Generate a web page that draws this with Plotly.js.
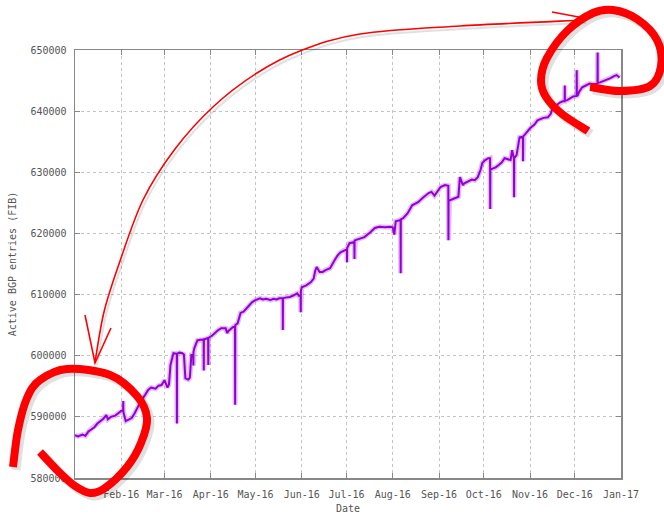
<!DOCTYPE html>
<html>
<head>
<meta charset="utf-8">
<script src="https://cdn.plot.ly/plotly-3.0.1.min.js"></script>
<style>
  html, body { margin: 0; padding: 0; background: #fff; }
  #chart { width: 664px; height: 514px; }
</style>
</head>
<body>
<div id="chart"></div>
<script>
// ---- data ----
const dates = [
  "2016-01-01","2016-01-03","2016-01-06","2016-01-08","2016-01-10","2016-01-12","2016-01-14","2016-01-16",
  "2016-01-18","2016-01-20","2016-01-22","2016-01-23","2016-01-25","2016-01-28","2016-01-30","2016-02-01",
  "2016-02-02 06:00","2016-02-02 08:00","2016-02-02 10:00",
  "2016-02-04","2016-02-06","2016-02-08","2016-02-10","2016-02-12","2016-02-14","2016-02-17","2016-02-19",
  "2016-02-21","2016-02-24","2016-02-26","2016-02-28","2016-03-01","2016-03-03","2016-03-04","2016-03-05",
  "2016-03-07",
  "2016-03-09 06:00","2016-03-09 08:00","2016-03-09 10:00",
  "2016-03-11","2016-03-13","2016-03-14","2016-03-15","2016-03-17","2016-03-18","2016-03-19",
  "2016-03-20 06:00","2016-03-20 08:00","2016-03-20 10:00",
  "2016-03-21","2016-03-23","2016-03-25",
  "2016-03-27 06:00","2016-03-27 08:00","2016-03-27 10:00",
  "2016-03-28",
  "2016-03-30 06:00","2016-03-30 08:00","2016-03-30 10:00",
  "2016-04-02","2016-04-04","2016-04-06","2016-04-08","2016-04-11","2016-04-12","2016-04-13","2016-04-16",
  "2016-04-17 06:00","2016-04-17 08:00","2016-04-17 10:00",
  "2016-04-19","2016-04-21","2016-04-23","2016-04-25","2016-04-27","2016-04-29","2016-05-01","2016-05-04",
  "2016-05-06","2016-05-08","2016-05-11","2016-05-13","2016-05-15","2016-05-17",
  "2016-05-19 06:00","2016-05-19 08:00","2016-05-19 10:00",
  "2016-05-21","2016-05-24","2016-05-26","2016-05-29","2016-05-30",
  "2016-05-31 06:00","2016-05-31 08:00","2016-05-31 10:00",
  "2016-06-01","2016-06-04","2016-06-07","2016-06-09","2016-06-10","2016-06-11","2016-06-13","2016-06-15",
  "2016-06-17","2016-06-20","2016-06-23","2016-06-25","2016-06-27","2016-06-29",
  "2016-07-01 06:00","2016-07-01 08:00","2016-07-01 10:00",
  "2016-07-03","2016-07-05",
  "2016-07-06 06:00","2016-07-06 08:00","2016-07-06 10:00",
  "2016-07-07","2016-07-10","2016-07-13","2016-07-17","2016-07-20","2016-07-23","2016-07-27","2016-07-30",
  "2016-08-01","2016-08-02","2016-08-03",
  "2016-08-06 06:00","2016-08-06 08:00","2016-08-06 10:00",
  "2016-08-08","2016-08-11","2016-08-14","2016-08-16","2016-08-18","2016-08-21","2016-08-25","2016-08-27",
  "2016-08-29","2016-09-02","2016-09-05",
  "2016-09-07 06:00","2016-09-07 08:00","2016-09-07 10:00",
  "2016-09-08","2016-09-12","2016-09-14","2016-09-15","2016-09-17","2016-09-18","2016-09-20","2016-09-23",
  "2016-09-25","2016-09-27","2016-09-29","2016-09-30","2016-10-02","2016-10-04",
  "2016-10-05 06:00","2016-10-05 08:00","2016-10-05 10:00",
  "2016-10-06","2016-10-09","2016-10-11","2016-10-13","2016-10-15","2016-10-17","2016-10-19","2016-10-20",
  "2016-10-21 06:00","2016-10-21 08:00","2016-10-21 10:00",
  "2016-10-23","2016-10-24","2016-10-25",
  "2016-10-27 06:00","2016-10-27 08:00","2016-10-27 10:00",
  "2016-10-28","2016-10-30","2016-11-01","2016-11-04","2016-11-06","2016-11-10","2016-11-13","2016-11-15",
  "2016-11-16","2016-11-19","2016-11-21","2016-11-23",
  "2016-11-24 06:00","2016-11-24 08:00","2016-11-24 10:00",
  "2016-11-26","2016-11-28","2016-11-30",
  "2016-12-02 06:00","2016-12-02 08:00","2016-12-02 10:00",
  "2016-12-03","2016-12-04","2016-12-06","2016-12-09","2016-12-11","2016-12-13",
  "2016-12-16 06:00","2016-12-16 08:00","2016-12-16 10:00",
  "2016-12-18","2016-12-20","2016-12-22","2016-12-25","2016-12-27","2016-12-29","2016-12-31"
];
const entries = [
  587000,586800,587100,586900,587600,588000,588300,588900,
  589300,589700,590300,589600,590000,590200,590600,591000,
  591000,592600,590800,
  589300,589500,589800,590600,591600,592500,593600,594400,
  594800,594600,595100,595200,596000,594800,595300,598500,
  600400,
  600300,588900,600300,
  600500,600400,600200,596300,596100,596400,600100,
  600100,598400,600600,
  601200,602500,602600,
  602600,597600,602700,
  602700,
  602900,598500,602900,
  603300,603800,604200,604500,604500,603700,604100,604700,
  604700,592000,605000,
  605300,607000,607200,607800,608300,608800,609100,609400,
  609200,609300,609100,609300,609200,609400,
  609400,604200,609400,
  609500,609600,609800,610200,609800,
  609800,607100,610600,
  611200,611500,612000,612600,613900,614500,613700,613700,
  614000,614300,615600,616400,616900,617200,
  617400,615300,617600,
  618400,618600,
  618600,615800,618800,
  618900,619200,619400,620200,620900,621100,621000,621100,
  621000,619800,622000,
  622200,613500,622300,
  622500,623300,624600,624800,625100,625800,626600,626800,
  626200,627600,627900,
  627800,618900,625400,
  625400,625800,626000,629200,627900,628200,628400,628800,
  628700,629200,630500,631500,632000,632300,
  632300,624000,630600,
  630500,630800,631200,631600,632300,632200,632000,633600,
  632200,625900,632300,
  632800,634500,635700,
  635800,631800,635900,
  636000,636600,637200,637800,638500,638900,639000,639600,
  640500,641000,641400,641600,
  641600,644200,641700,
  641800,642100,642400,
  642500,646700,642500,
  642600,643200,643900,644300,644500,644400,
  644500,649600,644600,
  644700,644900,645000,645400,645700,645900,645500
];
const tickDates = ["2016-02-01","2016-03-01","2016-04-01","2016-05-01","2016-06-01","2016-07-01",
  "2016-08-01","2016-09-01","2016-10-01","2016-11-01","2016-12-01","2017-01-01"];
const tickLabels = ["Feb-16","Mar-16","Apr-16","May-16","Jun-16","Jul-16",
  "Aug-16","Sep-16","Oct-16","Nov-16","Dec-16","Jan-17"];
const yTicks = [580000,590000,600000,610000,620000,630000,640000,650000];

// ---- hand-drawn red marks (decoration, in page pixels) ----
const PLOT = {l: 75, r: 621, t: 50, b: 478};
const arcStroke = [[95,362],[104,312],[119,264],[143,200],[175,149],[214,106],[257,73],[300,51],[360,34],[460,26],[584,20]];
const arrowLow = [[85,315],[95,363],[111,328]];
const arrowHigh1 = [[552,12],[584,18]];
const arrowHigh2 = [[560,34],[582,22]];
const loopLow = [[13,467],[18,430],[27,398],[40,380],[67,369],[110,375],[137,396],[147,418],[141,443],[127,467],[105,488],[90,493],[75,486],[60,473],[40,452]];
const loopHigh = [[588,131],[562,114],[546,97],[541,80],[547,58],[567,31],[593,13],[613,10],[637,19],[657,40],[661,66],[650,86],[620,91],[590,87]];

function toPaper(p, dx, dy) {
  const x = (p[0] + (dx||0) - PLOT.l) / (PLOT.r - PLOT.l);
  const y = (PLOT.b - (p[1] + (dy||0))) / (PLOT.b - PLOT.t);
  return x.toFixed(5) + "," + y.toFixed(5);
}
function smoothPath(pts, dx, dy) {
  let d = "M" + toPaper(pts[0], dx, dy);
  for (let i = 0; i < pts.length - 1; i++) {
    const p0 = pts[Math.max(0, i - 1)], p1 = pts[i], p2 = pts[i + 1], p3 = pts[Math.min(pts.length - 1, i + 2)];
    const c1 = [p1[0] + (p2[0] - p0[0]) / 6, p1[1] + (p2[1] - p0[1]) / 6];
    const c2 = [p2[0] - (p3[0] - p1[0]) / 6, p2[1] - (p3[1] - p1[1]) / 6];
    d += " C" + toPaper(c1, dx, dy) + " " + toPaper(c2, dx, dy) + " " + toPaper(p2, dx, dy);
  }
  return d;
}
function polyPath(pts, dx, dy) {
  return "M" + pts.map(p => toPaper(p, dx, dy)).join(" L");
}
function stroke(path, width, color) {
  return {type: "path", xref: "paper", yref: "paper", path: path,
          line: {color: color, width: width}, fillcolor: "rgba(0,0,0,0)", layer: "above"};
}
const RED = "#ff0000", SHADOW = "rgba(0,0,0,0.12)";
const shapes = [
  stroke(smoothPath(arcStroke, 2, 3), 2, SHADOW),
  stroke(smoothPath(loopLow, 3, 3), 9, SHADOW),
  stroke(smoothPath(loopHigh, 3, 3), 9, SHADOW),
  stroke(smoothPath(arcStroke), 1.6, RED),
  stroke(polyPath(arrowLow), 1.6, RED),
  stroke(polyPath(arrowHigh1), 1.6, RED),
  stroke(polyPath(arrowHigh2), 1.6, RED),
  stroke(smoothPath(loopLow), 8, RED),
  stroke(smoothPath(loopHigh), 8, RED)
];

const FONT = {family: "DejaVu Sans Mono, monospace", size: 10, color: "#555"};

const traces = [
  {x: dates, y: entries, type: "scatter", mode: "lines", hoverinfo: "skip",
   line: {color: "rgba(160,40,225,0.3)", width: 5}, showlegend: false},
  {x: dates, y: entries, type: "scatter", mode: "lines",
   line: {color: "#9400d3", width: 2}, showlegend: false}
];

const axisCommon = {
  showline: true, linecolor: "#888", linewidth: 1.5, mirror: "ticks",
  ticks: "inside", ticklen: 5, tickcolor: "#888", tickwidth: 1,
  showgrid: true, gridcolor: "#c4c4c4", gridwidth: 1, griddash: "dot",
  zeroline: false, tickfont: FONT
};

const layout = {
  width: 664, height: 514,
  margin: {l: PLOT.l, r: 664 - PLOT.r, t: PLOT.t, b: 514 - PLOT.b},
  paper_bgcolor: "#fff", plot_bgcolor: "#fff",
  font: FONT,
  xaxis: Object.assign({}, axisCommon, {
    type: "date", range: ["2016-01-01", "2017-01-01"],
    tickmode: "array", tickvals: tickDates, ticktext: tickLabels,
    ticklabelstandoff: 6,
    title: {text: "Date", font: FONT, standoff: 12}
  }),
  yaxis: Object.assign({}, axisCommon, {
    range: [580000, 650000],
    tickmode: "array", tickvals: yTicks, ticktext: yTicks.map(String),
    ticklabelstandoff: 5,
    title: {text: "Active BGP entries (FIB)", font: FONT, standoff: 12}
  }),
  shapes: shapes
};

Plotly.newPlot("chart", traces, layout, {staticPlot: true, displayModeBar: false});
</script>
</body>
</html>
